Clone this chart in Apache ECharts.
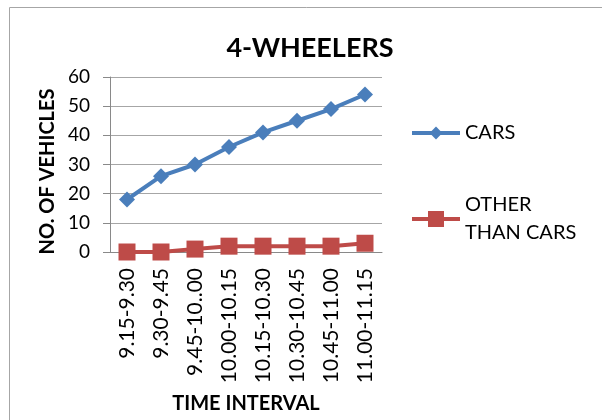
<!DOCTYPE html>
<html>
<head>
<meta charset="utf-8">
<script src="https://cdn.jsdelivr.net/npm/echarts@6/dist/echarts.min.js"></script>
<style>
html,body{margin:0;padding:0;background:#fff;}
#c{width:602px;height:420px;}
</style>
</head>
<body>
<div id="c"></div>
<script>
const categories = ['9.15-9.30','9.30-9.45','9.45-10..00','10.00-10.15','10.15-10.30','10.30-10.45','10.45-11.00','11.00-11.15'];
const cars = [18, 26, 30, 36, 41, 45, 49, 54];
const otherThanCars = [0, 0, 1, 2, 2, 2, 2, 3];
const yMin = 0, yMax = 60, yStep = 10;
const titleText = '4-WHEELERS';
const xName = 'TIME INTERVAL';
const yName = 'NO. OF VEHICLES';
const seriesNames = ['CARS', 'OTHER\nTHAN CARS'];

const FONT = 'Lato';
const chart = echarts.init(document.getElementById('c'), null, {renderer: 'canvas'});
chart.setOption({
  animation: false,
  backgroundColor: '#fff',
  textStyle: {fontFamily: FONT},
  title: {
    text: titleText,
    left: 305, top: 30, textAlign: 'center',
    textStyle: {fontFamily: FONT, fontWeight: 'bold', fontSize: 27, color: '#000'}
  },
  graphic: [{
    type: 'rect', silent: true,
    shape: {x: 9.5, y: 7.5, width: 620, height: 440},
    style: {fill: 'none', stroke: '#a6a6a6', lineWidth: 1}
  }],
  grid: {left: 110, right: 220, top: 77, bottom: 168, containLabel: false},
  xAxis: {
    type: 'category',
    data: categories,
    boundaryGap: true,
    name: xName, nameLocation: 'middle', nameGap: 142,
    nameTextStyle: {fontFamily: FONT, fontWeight: 'bold', fontSize: 20, color: '#000'},
    axisLine: {lineStyle: {color: '#898989', width: 1}},
    axisTick: {show: false},
    axisLabel: {rotate: 90, margin: 16, fontFamily: FONT, fontSize: 21, color: '#000'}
  },
  yAxis: {
    type: 'value', min: yMin, max: yMax, interval: yStep,
    name: yName, nameLocation: 'middle', nameGap: 52,
    nameTextStyle: {fontFamily: FONT, fontWeight: 'bold', fontSize: 20, color: '#000', padding: [0, 14, 0, 0]},
    axisLine: {show: true, lineStyle: {color: '#898989', width: 1}},
    axisTick: {show: true, length: 7, lineStyle: {color: '#898989'}},
    splitLine: {lineStyle: {color: '#a6a6a6', width: 1}},
    axisLabel: {margin: 20, fontFamily: FONT, fontSize: 19, color: '#000'}
  },
  legend: [{
    data: [{name: seriesNames[0]}],
    orient: 'vertical', left: 410, top: 123, padding: 0,
    itemWidth: 48, itemHeight: 16,
    textStyle: {fontFamily: FONT, fontSize: 20, color: '#000'},
    lineStyle: {width: 4}
  }, {
    data: [{name: seriesNames[1], textStyle: {lineHeight: 28, padding: [0, 0, -28, 0]}}],
    orient: 'vertical', left: 410, top: 195, padding: 0,
    itemWidth: 48, itemHeight: 20,
    textStyle: {fontFamily: FONT, fontSize: 20, color: '#000', lineHeight: 28},
    lineStyle: {width: 4}
  }],
  series: [{
    name: seriesNames[0], type: 'line', data: cars,
    symbol: 'diamond', symbolSize: 16,
    lineStyle: {color: '#4a7ebb', width: 4},
    itemStyle: {color: '#4a7ebb'}
  }, {
    name: seriesNames[1], type: 'line', data: otherThanCars,
    symbol: 'rect', symbolSize: 17,
    lineStyle: {color: '#be4b48', width: 4},
    itemStyle: {color: '#be4b48'}
  }]
});
</script>
</body>
</html>
